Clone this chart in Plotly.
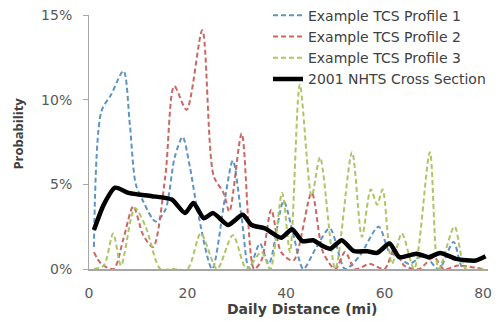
import plotly.graph_objects as go

# ---- data ----
p1_x = [1, 2.5, 4.5, 7, 8.3, 9.5, 11, 13.5, 15.5, 17.4, 19, 20.5, 22, 25, 27.5, 29.2, 31, 32.5, 34.7, 36.5, 39.5, 41.5, 43.5, 46, 48.9, 52, 55, 58.8, 61, 63, 65, 68, 71, 74, 76, 80]
p1_y = [1.3, 9.3, 10.3, 11.7, 8.5, 5.0, 4.0, 2.8, 3.5, 6.6, 7.8, 6.0, 3.5, 0.0, 4.0, 6.4, 3.0, 0.0, 1.5, 0.3, 4.0, 2.0, 0.0, 1.2, 2.4, 0.0, 0.8, 2.5, 1.0, 0.7, 0.3, 0.8, 0.0, 1.6, 0.0, 0.0]

p2_x = [1, 2.5, 5, 7, 9, 11, 13, 15.5, 17.3, 19.8, 23, 25.3, 27.3, 28.5, 31, 33.5, 35, 37, 39, 41.5, 45.2, 47.5, 50, 52, 54, 57, 60, 62, 64, 67, 70, 72, 75, 80]
p2_y = [1.0, 0.3, 0.0, 1.8, 3.7, 2.0, 1.3, 5.5, 10.8, 9.4, 14.1, 5.5, 4.5, 3.4, 8.0, 0.0, 0.5, 3.5, 1.0, 0.5, 4.5, 1.0, 0.0, 1.0, 0.0, 0.3, 0.0, 1.2, 0.2, 0.0, 0.7, 0.0, 0.2, 0.0]

p3_x = [1, 3, 4.9, 6.5, 9.3, 11.5, 14.5, 17, 20, 22.7, 26, 29.2, 32, 35, 36.8, 39.2, 40.8, 42.8, 45.2, 46.9, 50, 53.4, 55.4, 57.2, 58.5, 59.6, 61.5, 63.5, 66, 69.2, 71, 74.2, 76.5, 80]
p3_y = [0.0, 0.2, 2.1, 0.2, 3.6, 2.5, 0.0, 0.0, 0.0, 2.1, 0.0, 2.0, 0.0, 1.0, 0.0, 4.5, 1.0, 10.9, 4.3, 6.6, 0.0, 6.9, 1.9, 4.7, 3.8, 4.7, 0.3, 2.1, 0.0, 6.9, 0.0, 2.5, 0.0, 0.0]

nhts_x = [1, 3, 5.3, 8, 10, 12.8, 16.8, 19.5, 21.2, 23.3, 25.2, 28.2, 31.2, 33, 35.7, 39, 41.2, 43.3, 45.5, 47.5, 49, 51.3, 53.8, 56.5, 58.5, 61, 63, 66.5, 69, 71.3, 74.5, 78.5, 80.5]
nhts_y = [2.3, 3.8, 4.8, 4.5, 4.4, 4.3, 4.1, 3.3, 3.9, 3.0, 3.3, 2.6, 3.2, 2.6, 2.4, 1.85, 2.35, 1.65, 1.7, 1.35, 1.2, 1.7, 1.05, 1.05, 0.95, 1.5, 0.7, 0.9, 0.7, 0.95, 0.6, 0.5, 0.75]

names = ["Example TCS Profile 1", "Example TCS Profile 2", "Example TCS Profile 3", "2001 NHTS Cross Section"]
y_ticks = [0, 5, 10, 15]
y_tick_text = ["0%", "5%", "10%", "15%"]
x_ticks = [0, 20, 40, 60, 80]

FONT = "DejaVu Sans"
fig = go.Figure()
dashed = [(p1_x, p1_y, "#5f93c4"), (p2_x, p2_y, "#cc6662"), (p3_x, p3_y, "#adc564")]
for (xs, ys, col), nm in zip(dashed, names[:3]):
    fig.add_trace(go.Scatter(x=xs, y=ys, name=nm, mode="lines",
                             line=dict(color=col, width=2, dash="5px,3px", shape="spline", smoothing=0.8)))
fig.add_trace(go.Scatter(x=nhts_x, y=nhts_y, name=names[3], mode="lines",
                         line=dict(color="#000000", width=4.5, shape="spline", smoothing=0.6)))

# page has an 8px body margin, so the figure is drawn 8px right/down
fig.update_layout(
    width=492, height=314,
    margin=dict(l=81, r=12, t=7, b=53, autoexpand=False),
    paper_bgcolor="white", plot_bgcolor="white",
    font=dict(family=FONT, color="#595959", size=14),
    showlegend=True,
    legend=dict(x=0.4486, y=1.06, xanchor="left", yanchor="top",
                bgcolor="rgba(0,0,0,0)", font=dict(family=FONT, size=14, color="#404040"),
                tracegroupgap=0),
    xaxis=dict(range=[0, 81], tickvals=x_ticks, showgrid=False, zeroline=False,
               showline=True, linecolor="#a6a6a6", linewidth=2, ticks="",
               tickfont=dict(size=14, color="#595959"), ticklabelstandoff=10,
               ticklabeloverflow="allow"),
    yaxis=dict(range=[0, 15], tickvals=y_ticks, ticktext=y_tick_text, showgrid=False,
               zeroline=False, showline=True, linecolor="#a6a6a6", linewidth=1,
               ticks="outside", ticklen=5, tickcolor="#a6a6a6",
               tickfont=dict(size=14, color="#595959"), ticklabelstandoff=8,
               ticklabeloverflow="allow"),
    annotations=[
        dict(text="<b>Daily Distance (mi)</b>", xref="paper", yref="paper", x=0.534, y=-0.157,
             xanchor="center", yanchor="middle", showarrow=False,
             font=dict(family=FONT, size=14, color="#404040")),
        dict(text="<b>Probability</b>", xref="paper", yref="paper", x=-0.178, y=0.533,
             xanchor="center", yanchor="middle", textangle=-90, showarrow=False,
             font=dict(family="Open Sans", size=13, color="#404040")),
    ],
)
fig.write_html("out.html")
